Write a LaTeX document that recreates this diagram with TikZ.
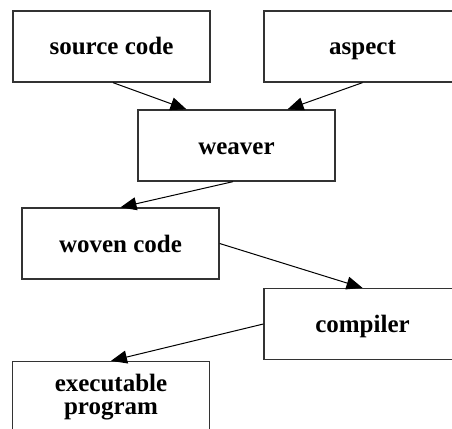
\documentclass[tikz,border=0pt]{standalone}
\usepackage{fontspec}
\setmainfont{Liberation Serif}
\usepackage{tikz}
\usetikzlibrary{arrows.meta}
\tikzset{
    box/.style={draw=black!80, line width=1.3pt, minimum width=197pt, minimum height=71pt,
        inner sep=0pt, align=center, font=\bfseries\fontsize{25}{23}\selectfont},
    flow/.style={line width=1pt, -{Triangle[length=16pt, width=13pt]}}}

\begin{document}
\begin{tikzpicture}[x=1pt, y=-1pt]

    \useasboundingbox (0,0) rectangle (452,428);
    \clip (0,0) rectangle (452,428);

    \node[box, text height=17pt, text depth=0pt] (src) at (111.5,46.5) {source code};
    \node[box, text height=17pt, text depth=0pt] (asp) at (362.5,46.5) {aspect};
    \node[box, text height=17pt, text depth=0pt] (weav) at (236.5,145.5) {weaver};
    \node[box, text height=17pt, text depth=0pt] (woven) at (120.5,243.5) {woven code};
    \node[box, text height=17pt, text depth=0pt] (comp) at (362.5,324) {compiler};
    \node[box] (exe) at (111,397) {executable\\program};

    \draw[flow] ([xshift=1.5pt]src.south) -- ([xshift=-50pt]weav.north);
    \draw[flow] (asp.south) -- ([xshift=51pt]weav.north);
    \draw[flow] ([xshift=-3.5pt]weav.south) -- (woven.north);
    \draw[flow] (woven.east) -- (comp.north);
    \draw[flow] (comp.west) -- (exe.north);

\end{tikzpicture}
\end{document}
